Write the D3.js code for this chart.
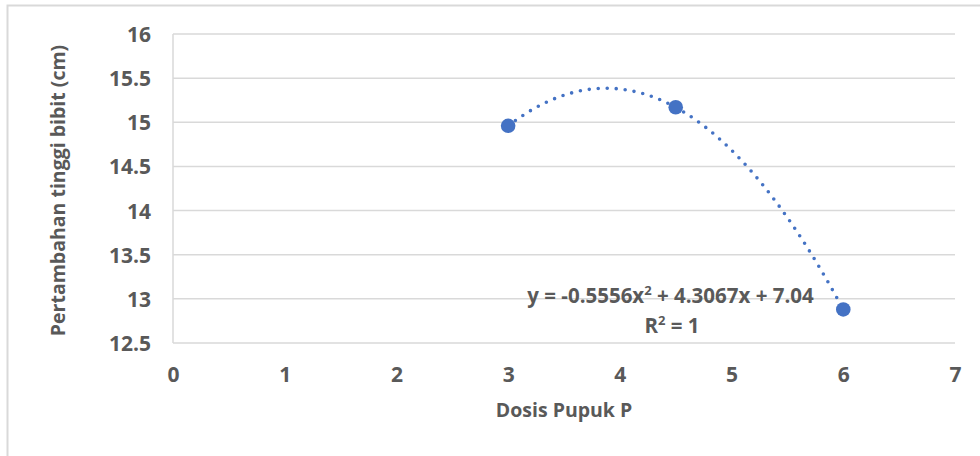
<!DOCTYPE html>
<html><head><meta charset="utf-8">
<script src="https://cdn.jsdelivr.net/npm/d3@7"></script>
<style>
html,body{margin:0;padding:0;background:#fff;}
svg{display:block;}
text{font-family:"Open Sans","Noto Sans",sans-serif;font-weight:bold;fill:#595959;}
</style></head><body>
<svg id="c" width="980" height="456"></svg>
<script>
const doses = [3, 4.5, 6];
const heights = [14.96, 15.17, 12.88];
const trendCoef = [-0.5556, 4.3067, 7.04];
const xTicks = [0, 1, 2, 3, 4, 5, 6, 7];
const yTicks = [12.5, 13, 13.5, 14, 14.5, 15, 15.5, 16];
const xTitle = "Dosis Pupuk P";
const yTitle = "Pertambahan tinggi bibit (cm)";

const svg = d3.select("#c");
// chart border
svg.append("path").attr("d","M7.5,460 V5.5 H985").attr("fill","none").attr("stroke","#d9d9d9").attr("stroke-width",2);

const m = {l:173, r:955, t:34, b:343};
const x = d3.scaleLinear().domain([0,7]).range([m.l,m.r]);
const y = d3.scaleLinear().domain([12.5,16]).range([m.b,m.t]);

// gridlines
svg.append("g").selectAll("line").data(yTicks).join("line")
  .attr("x1",m.l).attr("x2",m.r).attr("y1",d=>y(d)).attr("y2",d=>y(d))
  .attr("stroke","#d9d9d9").attr("stroke-width",1.5);
// y axis line
svg.append("line").attr("x1",m.l).attr("x2",m.l).attr("y1",m.t).attr("y2",m.b)
  .attr("stroke","#d9d9d9").attr("stroke-width",1.5);

const yAx = svg.append("g").attr("transform",`translate(151,0)`)
  .call(d3.axisLeft(y).tickValues(yTicks).tickSize(0).tickFormat(d=>String(d)));
yAx.attr("font-family",null).attr("font-size",null);
yAx.select(".domain").remove();
yAx.selectAll("text").attr("font-size",21).attr("dy","0.36em").attr("x",0).style("fill","#595959");

const xAx = svg.append("g").attr("transform",`translate(0,382)`)
  .call(d3.axisBottom(x).tickValues(xTicks).tickSize(0).tickFormat(d=>String(d)));
xAx.attr("font-family",null).attr("font-size",null);
xAx.select(".domain").remove();
xAx.selectAll("text").attr("font-size",21).attr("dy","0").attr("y",0).style("fill","#595959");

// titles
svg.append("text").attr("x",(m.l+m.r)/2).attr("y",417).attr("text-anchor","middle")
  .attr("font-size",19.5).text(xTitle);
svg.append("text").attr("transform",`translate(65,${(m.t+m.b)/2 + 2}) rotate(-90)`)
  .attr("text-anchor","middle").attr("font-size",19.5).text(yTitle);

// trendline
const f = v => trendCoef[0]*v*v + trendCoef[1]*v + trendCoef[2];
const tx = d3.range(doses[0], doses[doses.length-1]+0.0001, 0.05);
svg.append("path").datum(tx)
  .attr("d", d3.line().x(d=>x(d)).y(d=>y(f(d))).curve(d3.curveLinear))
  .attr("fill","none").attr("stroke","#4472C4").attr("stroke-width",3.6)
  .attr("stroke-linecap","round").attr("stroke-dasharray","0 9");

// points
svg.append("g").selectAll("circle").data(doses).join("circle")
  .attr("cx",d=>x(d)).attr("cy",(d,i)=>y(heights[i])).attr("r",7.3)
  .attr("fill","#4472C4");

// equation label
const eq = svg.append("text").attr("x",670.5).attr("y",303).attr("text-anchor","middle").attr("font-size",20.5);
eq.append("tspan").text(`y = ${trendCoef[0]}x`);
eq.append("tspan").attr("dy",-8).attr("font-size",13).text("2");
eq.append("tspan").attr("dy",8).text(` + ${trendCoef[1]}x + ${trendCoef[2]}`);
const r2 = svg.append("text").attr("x",672).attr("y",333).attr("text-anchor","middle").attr("font-size",20.5);
r2.append("tspan").text("R");
r2.append("tspan").attr("dy",-8).attr("font-size",13).text("2");
r2.append("tspan").attr("dy",8).text(" = 1");
</script></body></html>
